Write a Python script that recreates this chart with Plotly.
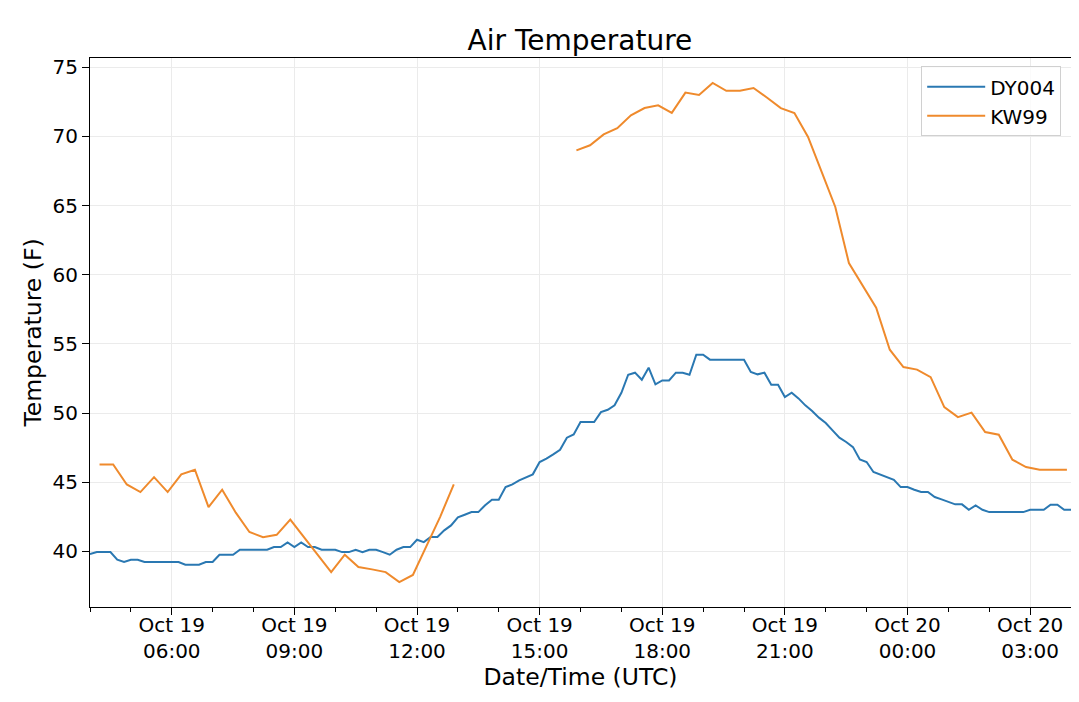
import pandas as pd
import plotly.graph_objects as go

# DY004 every 10 min from Oct 19 04:00 UTC
dy004_start = "2021-10-19 04:00"
dy004_temp = [
    39.80, 39.95, 39.95, 39.95, 39.40, 39.23, 39.40, 39.40, 39.23, 39.23, 39.23, 39.23,
    39.23, 39.23, 39.04, 39.04, 39.04, 39.23, 39.23, 39.76, 39.76, 39.76, 40.12, 40.12,
    40.12, 40.12, 40.12, 40.31, 40.31, 40.65, 40.31, 40.65, 40.31, 40.31, 40.12, 40.12,
    40.12, 39.95, 39.95, 40.12, 39.95, 40.12, 40.12, 39.95, 39.76, 40.12, 40.31, 40.31,
    40.84, 40.67, 41.04, 41.04, 41.52, 41.88, 42.46, 42.65, 42.84, 42.84, 43.33, 43.74,
    43.74, 44.65, 44.84, 45.13, 45.37, 45.57, 46.46, 46.70, 47.01, 47.35, 48.22, 48.46,
    49.35, 49.35, 49.35, 50.07, 50.24, 50.56, 51.47, 52.77, 52.92, 52.41, 53.28, 52.08,
    52.36, 52.36, 52.92, 52.92, 52.77, 54.22, 54.22, 53.86, 53.86, 53.86, 53.86, 53.86,
    53.86, 52.97, 52.80, 52.92, 52.05, 52.05, 51.16, 51.47, 51.06, 50.56, 50.15, 49.67,
    49.28, 48.75, 48.22, 47.91, 47.54, 46.65, 46.46, 45.74, 45.57, 45.37, 45.18, 44.65,
    44.65, 44.46, 44.29, 44.29, 43.93, 43.76, 43.57, 43.40, 43.40, 43.01, 43.33, 43.01,
    42.84, 42.84, 42.84, 42.84, 42.84, 42.84, 43.01, 43.01, 43.01, 43.37, 43.37, 43.01,
    43.01,
]

# KW99 every 20 min, two runs with a data gap in between
kw99_early_start = "2021-10-19 04:14"
kw99_early = [
    46.29, 46.29, 44.84, 44.29, 45.37, 44.29, 45.57, 45.90, 43.20, 44.46, 42.80, 41.40,
    41.03, 41.20, 42.30, 41.03, 39.77, 38.50, 39.76, 38.87, 38.70, 38.50, 37.78, 38.30,
    40.40, 42.50, 44.84,
]
kw99_late_start = "2021-10-19 15:54"
kw99_late = [
    68.99, 69.36, 70.15, 70.60, 71.53, 72.05, 72.25, 71.70, 73.17, 73.00, 73.87, 73.30,
    73.30, 73.50, 72.80, 72.05, 71.69, 69.96, 67.43, 64.90, 60.85, 59.23, 57.62, 54.58,
    53.33, 53.14, 52.60, 50.43, 49.71, 50.03, 48.63, 48.44, 46.63, 46.10, 45.90, 45.90,
    45.90,
]

dy_t = pd.date_range(dy004_start, periods=len(dy004_temp), freq="10min")
kw_t1 = pd.date_range(kw99_early_start, periods=len(kw99_early), freq="20min")
kw_t2 = pd.date_range(kw99_late_start, periods=len(kw99_late), freq="20min")
# a None between the runs keeps the line broken over the gap
kw_t = list(kw_t1) + [kw_t1[-1] + pd.Timedelta(minutes=10)] + list(kw_t2)
kw_v = kw99_early + [None] + kw99_late

FONT = "DejaVu Sans"

fig = go.Figure()
fig.add_trace(go.Scatter(x=dy_t, y=dy004_temp, mode="lines", name="DY004",
                         line=dict(color="#2a78b2", width=2)))
fig.add_trace(go.Scatter(x=kw_t, y=kw_v, mode="lines", name="KW99",
                         line=dict(color="#ef8a2c", width=2), connectgaps=False))

# page body has an 8px margin, so the figure is 8px smaller each way
fig.update_layout(
    width=1071, height=694,
    margin=dict(l=82, r=8, t=50, b=95),
    paper_bgcolor="white", plot_bgcolor="white",
    font=dict(family=FONT, size=20, color="black"),
    title=dict(text="Air Temperature", x=0.534, xanchor="center", y=0.954,
               yanchor="middle", font=dict(size=28)),
    legend=dict(x=0.99, y=0.985, xanchor="right", yanchor="top",
                bgcolor="rgba(255,255,255,0.8)", bordercolor="#d0d0d0",
                borderwidth=1, font=dict(size=20), itemwidth=58,
                tracegroupgap=4),
    showlegend=True,
)

fig.update_xaxes(
    range=["2021-10-19 04:00", "2021-10-20 04:00"], automargin=False,
    tickmode="linear", tick0="2021-10-19 00:00", dtick=3 * 3600 * 1000,
    tickformat="%b %d<br>%H:%M", tickfont=dict(size=20), ticklabelstandoff=-7,
    ticks="outside", ticklen=7, tickcolor="black",
    showline=True, linecolor="black", linewidth=1, mirror=True,
    showgrid=True, gridcolor="#ebebeb", gridwidth=1, zeroline=False,
    minor=dict(dtick=3600 * 1000, tick0="2021-10-19 00:00", ticks="outside",
               ticklen=4, tickcolor="black", showgrid=False),
    title=dict(text="Date/Time (UTC)", font=dict(size=23.5), standoff=4),
)
fig.update_yaxes(
    range=[35.98, 75.67], automargin=False,
    tickmode="linear", tick0=40, dtick=5, tickfont=dict(size=20),
    ticks="outside", ticklen=7, tickcolor="black",
    showline=True, linecolor="black", linewidth=1, mirror=True,
    showgrid=True, gridcolor="#ebebeb", gridwidth=1, zeroline=False,
    title=dict(text="Temperature (F)", font=dict(size=23.5), standoff=4),
)

fig.write_html("out.html")
